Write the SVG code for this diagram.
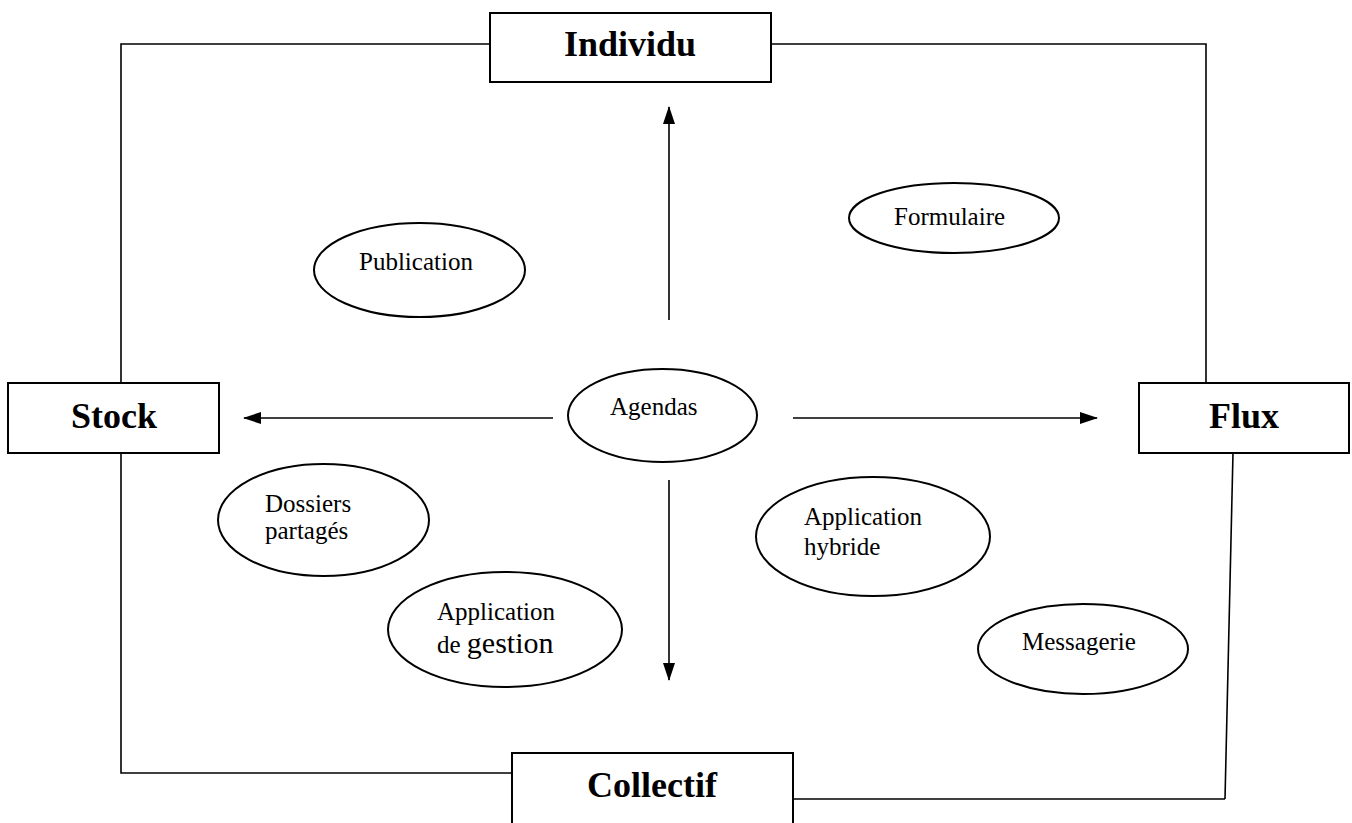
<svg xmlns="http://www.w3.org/2000/svg" width="1352" height="823" viewBox="0 0 1352 823">
<style>
.box{fill:#fff;stroke:#000;stroke-width:2}
.ell{fill:#fff;stroke:#000;stroke-width:2}
.ln{fill:none;stroke:#000;stroke-width:1.6}
.big{font-family:"Liberation Serif","Times New Roman",serif;font-weight:bold;font-size:36px;text-anchor:middle;fill:#000}
.sm{font-family:"Liberation Serif","Times New Roman",serif;font-size:25px;fill:#000}
</style>
<defs>
<marker id="ah" markerUnits="userSpaceOnUse" markerWidth="18" markerHeight="12" refX="17" refY="6" orient="auto">
<path d="M0,0 L18,6 L0,12 Z" fill="#000"/>
</marker>
</defs>
<rect width="1352" height="823" fill="#fff"/>
<g id="connectors">
<polyline class="ln" points="490,44 121,44 121,383"/>
<polyline class="ln" points="771,44 1206,44 1206,383"/>
<polyline class="ln" points="121,453 121,773 512,773"/>
<line class="ln" x1="793" y1="799" x2="1225" y2="799"/>
<line class="ln" x1="1233" y1="453" x2="1225" y2="799"/>
<line class="ln" x1="669" y1="320" x2="669" y2="107" marker-end="url(#ah)"/>
<line class="ln" x1="553" y1="418" x2="244" y2="418" marker-end="url(#ah)"/>
<line class="ln" x1="793" y1="418" x2="1097" y2="418" marker-end="url(#ah)"/>
<line class="ln" x1="669" y1="480" x2="669" y2="680" marker-end="url(#ah)"/>
</g>
<g id="individu"><rect class="box" x="490" y="13" width="281" height="69"/><text class="big" x="630" y="56">Individu</text></g>
<g id="stock"><rect class="box" x="8" y="383" width="211" height="70"/><text class="big" x="114" y="428">Stock</text></g>
<g id="flux"><rect class="box" x="1139" y="383" width="210" height="70"/><text class="big" x="1244" y="428">Flux</text></g>
<g id="collectif"><rect class="box" x="512" y="753" width="281" height="80"/><text class="big" x="652" y="797">Collectif</text></g>
<g id="agendas"><ellipse class="ell" cx="662.5" cy="415.5" rx="94.5" ry="46.5"/><text class="sm" x="610" y="415">Agendas</text></g>
<g id="publication"><ellipse class="ell" cx="419.5" cy="270" rx="105.5" ry="47"/><text class="sm" x="359" y="270">Publication</text></g>
<g id="formulaire"><ellipse class="ell" cx="954" cy="218" rx="105" ry="35"/><text class="sm" x="894" y="225">Formulaire</text></g>
<g id="dossiers"><ellipse class="ell" cx="323.5" cy="520" rx="105.5" ry="56"/><text class="sm" x="265" y="512">Dossiers</text><text class="sm" x="265" y="539">partagés</text></g>
<g id="appgestion"><ellipse class="ell" cx="505" cy="629.5" rx="117" ry="57.5"/><text class="sm" x="437" y="620">Application</text><text class="sm" x="437" y="653">de <tspan font-size="30">gestion</tspan></text></g>
<g id="apphybride"><ellipse class="ell" cx="873" cy="536.5" rx="117" ry="59.5"/><text class="sm" x="804" y="525">Application</text><text class="sm" x="804" y="555">hybride</text></g>
<g id="messagerie"><ellipse class="ell" cx="1083" cy="649" rx="105" ry="45"/><text class="sm" x="1022" y="650">Messagerie</text></g>
</svg>
